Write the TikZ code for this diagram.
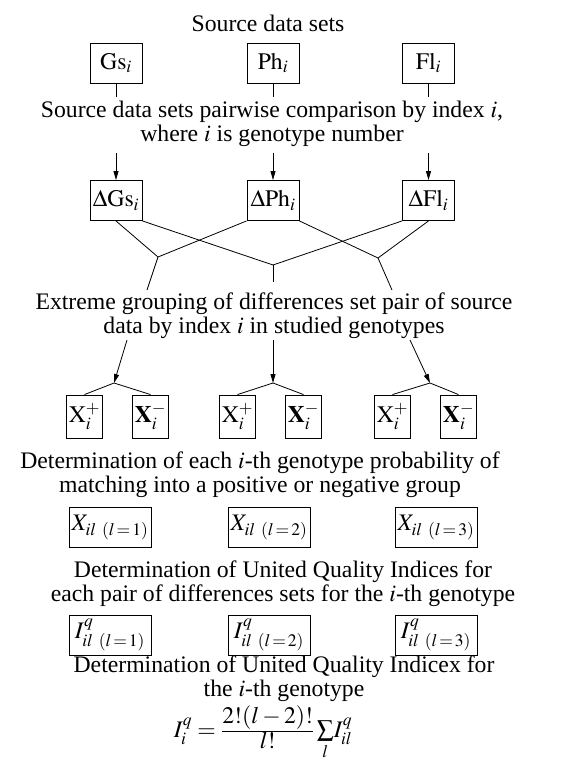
\documentclass[tikz,border=0pt]{standalone}
\usepackage{mathptmx}
\usepackage{fontspec}
\setmainfont{Liberation Serif}
\usetikzlibrary{arrows.meta}
\tikzset{
  >={Triangle[length=9bp,width=5bp]},
  box/.style={draw,line width=0.9bp,inner sep=0pt,minimum width=#1,minimum height=40bp},
  box/.default=52bp,
  pm/.style={draw,line width=0.9bp,inner sep=0pt,minimum width=36bp,minimum height=43bp},
  caption/.style={align=center,inner sep=0pt},
  link/.style={line width=0.8bp},
}

\begin{document}
\begin{tikzpicture}[x=1bp,y=-1bp,font=\fontsize{23.8}{24}\selectfont]
  \useasboundingbox (0,0) rectangle (587,765);
  \node[caption] (t0) at (268,23) {Source data sets};
  % source sets and differences
  \foreach \nm/\txt/\x in {gs/Gs/116,ph/Ph/273,fl/Fl/428.5}{
    \node[box] (\nm) at (\x,63) {$\mathrm{\txt}_i$};
    \coordinate (\nm-a) at (\x,97);
    \coordinate (\nm-b) at (\x,153);
    \node[box] (d\nm) at (\x,200.5) {$\Delta\mathrm{\txt}_i$};
    \draw[link] (\nm) -- (\nm-a);
    \draw[link,->] (\nm-b) -- (d\nm);
  }
  \node[caption] (t1) at (272,124) {Source data sets pairwise comparison by index $i$,\\ where $i$ is genotype number};
  % pairs
  \coordinate (jl) at (158,257);
  \coordinate (jm) at (273,265);
  \coordinate (jr) at (378,258);
  \draw[link] (dgs.south) -- (jl) -- (dph.south west);
  \draw[link] (dgs.south east) -- (jm) -- (dfl.south west);
  \draw[link] (dph.south east) -- (jr) -- (dfl.south);
  \coordinate (jl-a) at (147,290);
  \coordinate (jm-a) at (273,282);
  \coordinate (jr-a) at (392,290);
  \foreach \j in {jl,jm,jr} \draw[link] (\j) -- (\j-a);
  \node[caption] (t2) at (274,316) {Extreme grouping of differences set pair of source\\ data by index $i$ in studied genotypes};
  \coordinate (jl-b) at (127,340);
  \coordinate (jm-b) at (273,340);
  \coordinate (jr-b) at (410,340);
  \coordinate (kl) at (114,383);
  \coordinate (km) at (273,383);
  \coordinate (kr) at (430,383);
  \draw[link,->] (jl-b) -- (kl);
  \draw[link,->] (jm-b) -- (km);
  \draw[link,->] (jr-b) -- (kr);
  % extreme groups
  \foreach \k/\x/\j in {1/117.5/kl,2/270.5/km,3/425.5/kr}{
    \node[pm] (xp\k) at ({\x-33},416.5) {$\mathrm{X}_i^+$};
    \node[pm] (xm\k) at ({\x+33},416.5) {$\mathbf{X}_i^-$};
    \draw[link] (xp\k.north) -- (\j) -- (xm\k.north);
  }
  \node[caption] (t3) at (260,475) {Determination of each $i$-th genotype probability of\\ matching into a positive or negative group};
  % probabilities and indices
  \foreach \k/\x in {1/110,2/269,3/436}{
    \node[box=82bp] (xl\k) at (\x,527) {$X_{il\ (l\,=\,\k)}$};
    \node[box=82bp] (iq\k) at (\x,635) {$I^q_{il\ (l\,=\,\k)}$};
  }
  \node[caption] (t4) at (283,584) {Determination of United Quality Indices for\\ each pair of differences sets for the $i$-th genotype};
  \node[caption] (t5) at (284,679) {Determination of United Quality Indicex for\\ the $i$-th genotype};
  \node[caption] (f) at (263,733) {$I_i^q=\frac{\textstyle 2!(l-2)!}{\textstyle l!}\,{\textstyle\sum\limits_l} I_{il}^q$};
\end{tikzpicture}
\end{document}
